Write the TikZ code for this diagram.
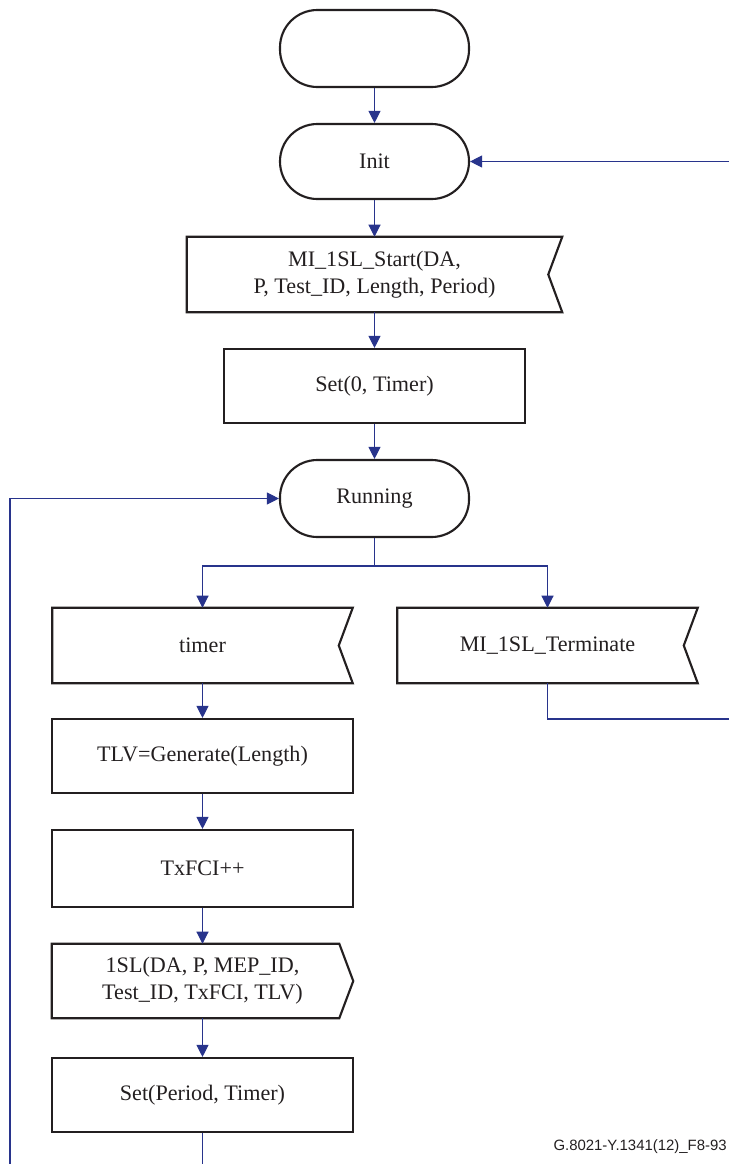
\documentclass[tikz,border=0pt]{standalone}
\usepackage{fontspec}
\setmainfont{Liberation Serif}
\newfontfamily\capfont{Liberation Sans}
\usetikzlibrary{arrows.meta}
\definecolor{connc}{RGB}{40,52,140}
\definecolor{edgec}{RGB}{35,31,32}
\begin{document}
\begin{tikzpicture}[x=0.75pt,y=-0.75pt,
  txt/.style={font=\fontsize{16.6}{20.3}\selectfont,align=center,inner sep=0pt,text=edgec},
  sz/.style 2 args={minimum width=#1*0.75pt,minimum height=#2*0.75pt},
  terminal/.style={txt,rectangle,draw=edgec,line width=1.6pt,rounded corners=28pt},
  procbox/.style={txt,rectangle,draw=edgec,line width=1.6pt},
  sigbox/.style={txt,rectangle},
  shapeline/.style={draw=edgec,line width=1.6pt,line join=miter},
  cline/.style={draw=connc,line width=0.8pt},
  arr/.style={cline,-{Triangle[length=9pt,width=9pt]}}]
\useasboundingbox (0,0) rectangle (729,1164);

% nodes
\node[terminal,sz={189}{77}] (start) at (374.5,48.5) {};
\node[terminal,sz={189}{75}] (init) at (374.5,161.5) {Init};
\node[sigbox,sz={375}{75}] (mistart) at (374.5,274.5) {MI\_1SL\_Start(DA,\\P, Test\_ID, Length, Period)};
\node[procbox,sz={301}{74}] (set0) at (374.5,386) {Set(0, Timer)};
\node[terminal,sz={189}{77}] (running) at (374.5,498.5) {Running};
\node[sigbox,sz={300}{75}] (timer) at (202.5,645.5) {timer};
\node[sigbox,sz={300}{75}] (term) at (547.5,645.5) {MI\_1SL\_Terminate};
\node[procbox,sz={301}{74}] (tlv) at (202.5,756) {TLV=Generate(Length)};
\node[procbox,sz={301}{77}] (txfci) at (202.5,868.5) {TxFCI++};
\node[sigbox,sz={301}{74}] (sl) at (202.5,981) {1SL(DA, P, MEP\_ID,\\Test\_ID, TxFCI, TLV)};
\node[procbox,sz={301}{74}] (setp) at (202.5,1095) {Set(Period, Timer)};
\node[font=\capfont\fontsize{11.2}{13}\selectfont,anchor=east,inner sep=0pt,text=edgec] (cap) at (727,1147) {G.8021-Y.1341(12)\_F8-93};

% signal shapes (receive: notch on right)
\draw[shapeline] (mistart.north west) -- (mistart.north east) -- ([xshift=-10.5pt]mistart.east) -- (mistart.south east) -- (mistart.south west) -- cycle;
\draw[shapeline] (timer.north west) -- (timer.north east) -- ([xshift=-10.5pt]timer.east) -- (timer.south east) -- (timer.south west) -- cycle;
\draw[shapeline] (term.north west) -- (term.north east) -- ([xshift=-10.5pt]term.east) -- (term.south east) -- (term.south west) -- cycle;
% send shape: point on right
\draw[shapeline] (sl.north west) -- ([xshift=-10.5pt]sl.north east) -- (sl.east) -- ([xshift=-10.5pt]sl.south east) -- (sl.south west) -- cycle;

% coordinates for free ends
\coordinate (initin) at (729,161.5);
\coordinate (br) at (374.5,566);
\coordinate (tout) at (729,719);
\coordinate (loopb) at (10,1164);
\coordinate (bot) at (202.5,1164);

% connectors
\draw[arr] (start) -- (init);
\draw[arr] (initin) -- (init.east);
\draw[arr] (init) -- (mistart);
\draw[arr] (mistart) -- (set0);
\draw[arr] (set0) -- (running);
\draw[cline,line width=1.2pt] (running.south) -- (br);
\draw[arr] (br) -| (timer.north);
\draw[arr] (br) -| (term.north);
\draw[cline] (term.south) |- (tout);
\draw[arr] (timer) -- (tlv);
\draw[arr] (tlv) -- (txfci);
\draw[arr] (txfci) -- (sl);
\draw[arr] (sl) -- (setp);
\draw[cline] (setp.south) -- (bot);
\draw[arr] (loopb) |- (running.west);
\end{tikzpicture}
\end{document}
